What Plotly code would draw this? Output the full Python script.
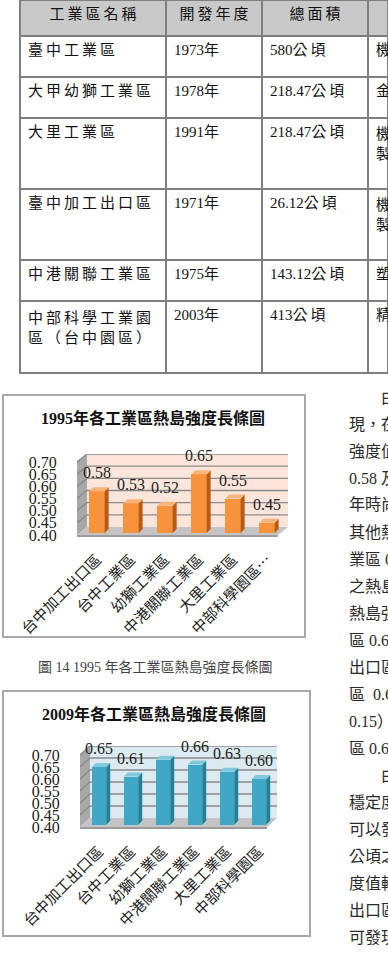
import plotly.graph_objects as go

# ---------------- data ----------------
table_header = ["工業區名稱", "開發年度", "總面積", ""]
park_names = ["臺中工業區", "大甲幼獅工業區", "大里工業區", "臺中加工出口區",
              "中港關聯工業區", "中部科學工業園<br>區（台中園區）"]
dev_years = ["1973年", "1978年", "1991年", "1971年", "1975年", "2003年"]
total_areas = ["580公頃", "218.47公頃", "218.47公頃", "26.12公頃", "143.12公頃", "413公頃"]
main_industry = ["機械", "金屬", "機械<br>製造", "機械<br>製造", "塑膠", "精密"]

zones_1995 = ["台中加工出口區", "台中工業區", "幼獅工業區", "中港關聯工業區", "大里工業區", "中部科學園區…"]
heat_1995 = [0.58, 0.53, 0.52, 0.65, 0.55, 0.45]
zones_2009 = ["台中加工出口區", "台中工業區", "幼獅工業區", "中港關聯工業區", "大里工業區", "中部科學園區"]
heat_2009 = [0.65, 0.61, 0.68, 0.66, 0.63, 0.60]
y_ticks = [0.40, 0.45, 0.50, 0.55, 0.60, 0.65, 0.70]

chart_titles = ["1995年各工業區熱島強度長條圖", "2009年各工業區熱島強度長條圖"]
caption_14 = "圖 14 1995 年各工業區熱島強度長條圖"
body_lines = ["　　由", "現，在", "強度值", "0.58 及", "年時尚", "其他熱", "業區 0",
              "之熱島", "熱島強", "區 0.6", "出口區", "區  0.6", "0.15）", "區 0.6.",
              "　　由", "穩定度", "可以發", "公頃之", "度值較", "出口區", "可發現"]

# ---------------- layout helpers ----------------
W, H = 388, 955
SERIF_CJK = "Liberation Serif, Noto Sans CJK TC"
CJK = "Noto Sans CJK TC"


def px(x):
    return x / W


def py(y):
    return 1 - y / H


def spaced(s):
    """Display helper: thin gap between CJK characters (document letter spacing)."""
    out = ""
    for i, ch in enumerate(s):
        out += ch
        if i + 1 < len(s) and ord(ch) > 0x2E80 and ord(s[i + 1]) > 0x2E80:
            out += "\u2009"
    return out


def cell(s):
    # two-line cells keep an empty paragraph line below, as in the document
    s = spaced(s)
    return s + "<br>\u00a0" if "<br>" in s else s


fig = go.Figure()

# ---------------- table ----------------
fig.add_trace(go.Table(
    domain=dict(x=[px(20), 1], y=[py(390), 1]),
    columnwidth=[146, 96, 106, 20],
    header=dict(values=[spaced(h) for h in table_header], fill_color="#c9c9c9",
                line=dict(color="#7f7f7f", width=1.5), height=36, align="center",
                font=dict(family=SERIF_CJK, size=15, color="#111")),
    cells=dict(values=[[cell(v) for v in col] for col in
                       (park_names, dev_years, total_areas, main_industry)],
               fill_color="white", line=dict(color="#7f7f7f", width=1.5),
               height=41, align="left",
               font=dict(family=SERIF_CJK, size=15, color="#111")),
))

# ---------------- 3D-look bar charts ----------------
specs = [
    dict(names=zones_1995, vals=heat_1995, n=1, cat0=97, step=34, y040=535, y070=462,
         front_left=77, back_right=288, depth=(10, 8), slab=2,
         wall="#fce5da", bar="#f7933c", side="#b85a18", top="#f9b47c",
         box=(3, 395, 305, 637), title_xy=(153, 418)),
    dict(names=zones_2009, vals=heat_2009, n=2, cat0=99, step=32, y040=827, y070=755,
         front_left=80, back_right=277, depth=(10, 9), slab=2,
         wall="#dcebf1", bar="#40a8c7", side="#257f98", top="#80c8dc",
         box=(3, 691, 310, 936), title_xy=(154, 714)),
]


def path_of(xs, ys):
    return "M " + " L ".join(f"{a},{b}" for a, b in zip(xs, ys)) + " Z"


for k, s in enumerate(specs):
    n = s["n"]
    xa, ya = ("x", "y") if n == 1 else (f"x{n}", f"y{n}")
    ppu = (s["y040"] - s["y070"]) / 0.30
    dx = s["depth"][0] / s["step"]
    dy = s["depth"][1] / ppu
    x0 = (s["front_left"] - s["cat0"]) / s["step"]
    xr = (s["back_right"] - s["cat0"]) / s["step"]
    x1 = xr - dx
    ylo = 0.40 - s["slab"] / ppu
    yhi = 0.70 + dy
    ymin, ymax = y_ticks[0], y_ticks[-1]

    def wall(xs, ys, color):
        fig.add_shape(type="path", xref=xa, yref=ya, path=path_of(xs, ys),
                      fillcolor=color, line=dict(width=0), layer="below")

    # back wall, left side wall, floor
    wall([x0 + dx, xr, xr, x0 + dx], [ymin + dy, ymin + dy, ymax + dy, ymax + dy], s["wall"])
    wall([x0, x0 + dx, x0 + dx, x0], [ymin, ymin + dy, ymax + dy, ymax], "#a8a8a8")
    wall([x0, x1, xr, x0 + dx], [ymin, ymin, ymin + dy, ymin + dy], "#c4c4c4")
    wall([x0, x1, x1, x0], [ylo, ylo, ymin, ymin], "#9c9c9c")

    # gridlines on side wall and back wall
    for t in y_ticks[1:]:
        fig.add_shape(type="path", xref=xa, yref=ya,
                      path=f"M {x0},{t} L {x0 + dx},{t + dy} L {xr},{t + dy}",
                      line=dict(color="#8a8a8a", width=1.4), layer="below")

    # bars: front face from data
    bw = 0.45
    base = ymin + 0.25 * dy
    idx = list(range(len(s["vals"])))
    fig.add_trace(go.Bar(x=idx, y=[v - base for v in s["vals"]], base=base,
                         xaxis=xa, yaxis=ya, width=bw,
                         marker=dict(color=s["bar"], line=dict(width=0)),
                         hoverinfo="skip", showlegend=False))
    sdx, sdy = 4 / s["step"], 4 / ppu
    sx, sy, tx, ty = [], [], [], []
    for i, v in zip(idx, s["vals"]):
        r = i + bw / 2
        l = i - bw / 2
        sx += [r, r + sdx, r + sdx, r, r, None]
        sy += [base, base + sdy, v + sdy, v, base, None]
        tx += [l, r, r + sdx, l + sdx, l, None]
        ty += [v, v, v + sdy, v + sdy, v, None]
    for fx, fy, col in ((sx, sy, s["side"]), (tx, ty, s["top"])):
        fig.add_trace(go.Scatter(x=fx, y=fy, xaxis=xa, yaxis=ya, mode="lines",
                                 fill="toself", fillcolor=col, line=dict(width=0, color=col),
                                 hoverinfo="skip", showlegend=False))

    # data labels
    fig.add_trace(go.Scatter(x=idx, y=[v + 13 / ppu + sdy for v in s["vals"]],
                             text=[f"{v:.2f}" for v in s["vals"]],
                             xaxis=xa, yaxis=ya, mode="text", cliponaxis=False,
                             textposition="middle center",
                             textfont=dict(family="Liberation Serif", size=16, color="#222"),
                             hoverinfo="skip", showlegend=False))

    xkey = "xaxis" if n == 1 else f"xaxis{n}"
    ykey = "yaxis" if n == 1 else f"yaxis{n}"
    fig.update_layout(**{
        xkey: dict(domain=[px(s["front_left"]), px(s["back_right"])], range=[x0, xr],
                   anchor=ya, showgrid=False, zeroline=False, showline=False,
                   automargin=False,
                   tickmode="array", tickvals=idx, ticktext=s["names"], tickangle=-45,
                   ticks="outside", ticklen=7, tickcolor="rgba(0,0,0,0)",
                   tickfont=dict(family=CJK, size=15, color="#222"), fixedrange=True),
        ykey: dict(domain=[py(s["y040"] + s["slab"]), py(s["y070"] - s["depth"][1])],
                   range=[ylo, yhi], anchor=xa, showgrid=False, zeroline=False,
                   showline=False, automargin=False, tickmode="array", tickvals=y_ticks,
                   ticktext=[f"{t:.2f}" for t in y_ticks],
                   ticks="outside", ticklen=16, tickcolor="rgba(0,0,0,0)",
                   tickfont=dict(family="Liberation Serif", size=16, color="#222"),
                   fixedrange=True),
    })

    bx0, by0, bx1, by1 = s["box"]
    fig.add_shape(type="rect", xref="paper", yref="paper",
                  x0=px(bx0), x1=px(bx1), y0=py(by1), y1=py(by0),
                  line=dict(color="#a8a8a8", width=2), layer="below")
    fig.add_annotation(x=px(s["title_xy"][0]), y=py(s["title_xy"][1]), xref="paper", yref="paper",
                       text=f"<b>{chart_titles[k]}</b>", showarrow=False,
                       xanchor="center", yanchor="middle",
                       font=dict(family=SERIF_CJK, size=16, color="#111"))

# caption
fig.add_annotation(x=px(155), y=py(667), xref="paper", yref="paper", text=caption_14,
                   showarrow=False, xanchor="center", yanchor="middle",
                   font=dict(family=SERIF_CJK, size=14, color="#444"))

# right-hand body text (cut at page edge)
for j, line in enumerate(body_lines):
    fig.add_annotation(x=px(347), y=py(397 + 27 * j), xref="paper", yref="paper",
                       text=line, showarrow=False, xanchor="left", yanchor="middle",
                       font=dict(family=SERIF_CJK, size=16, color="#2a2a2a"))

fig.update_layout(width=W, height=H, margin=dict(l=0, r=0, t=0, b=0, autoexpand=False),
                  paper_bgcolor="white", plot_bgcolor="rgba(0,0,0,0)",
                  showlegend=False, bargap=0)

fig.write_html("out.html", config={"displayModeBar": False})
